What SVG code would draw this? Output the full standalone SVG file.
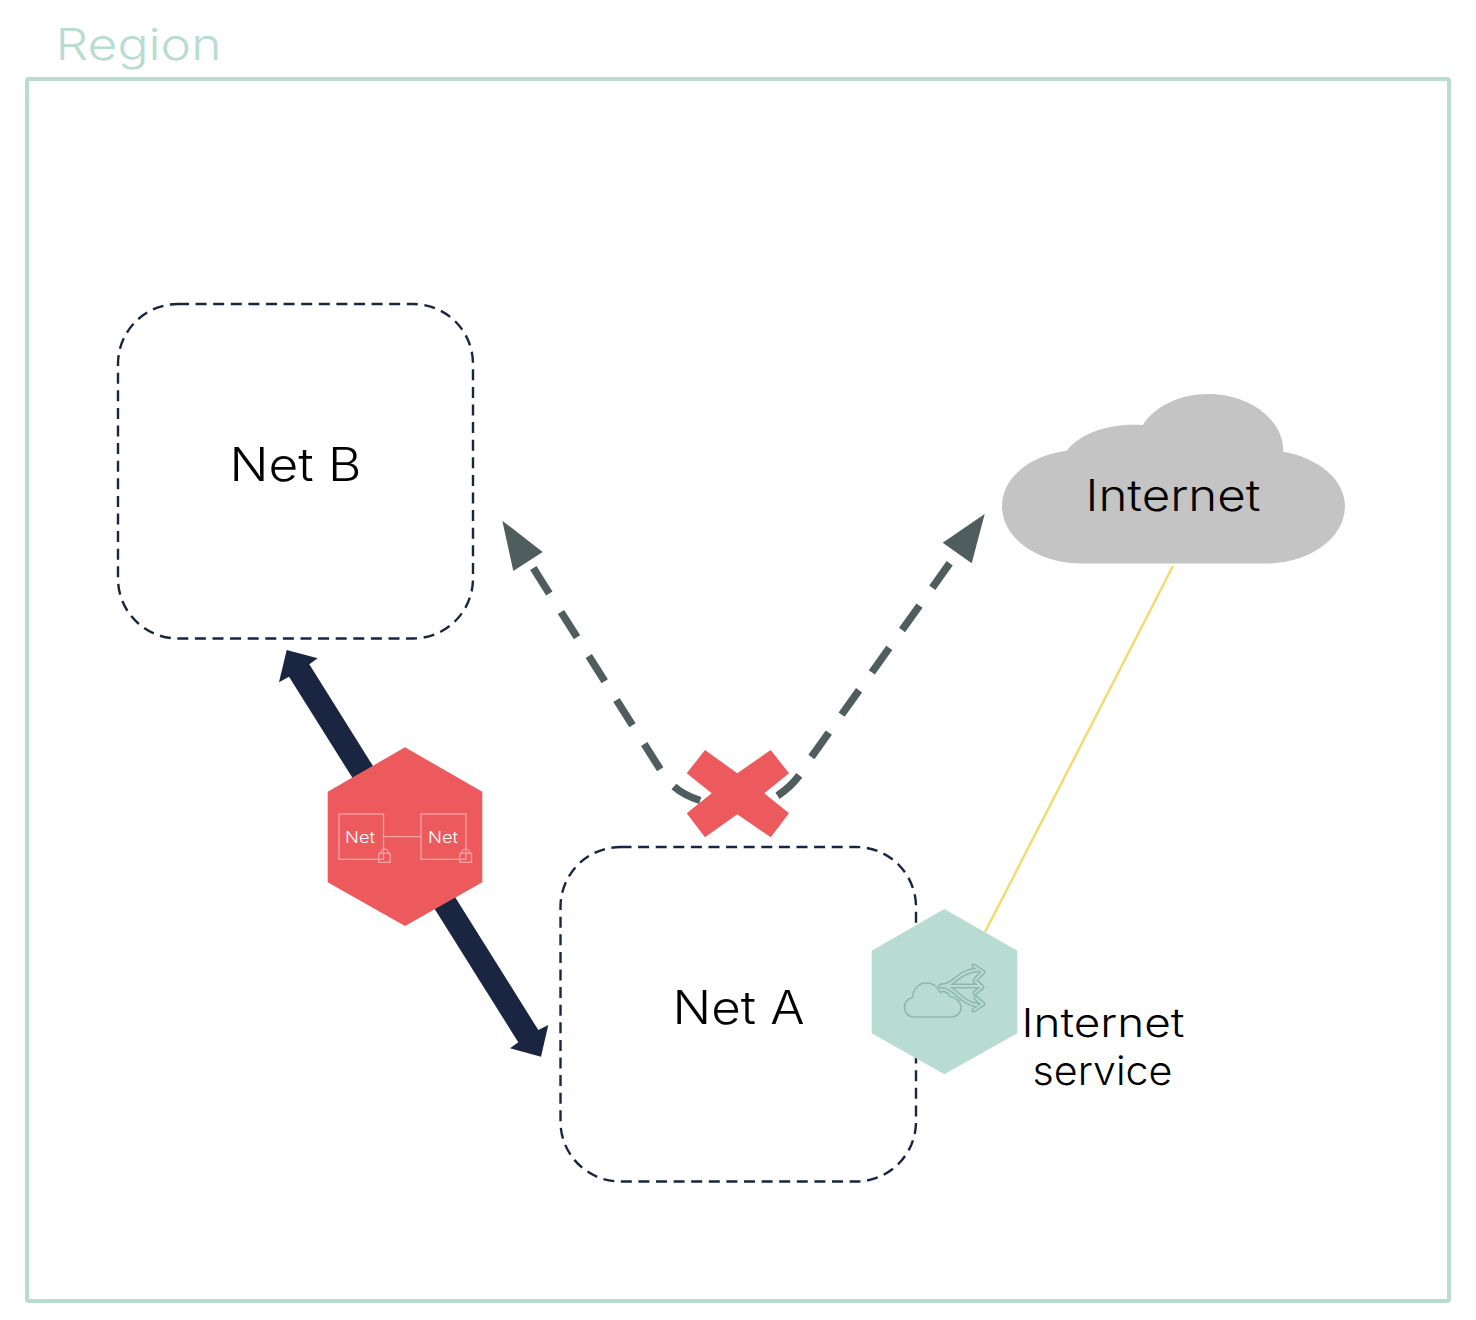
<svg xmlns="http://www.w3.org/2000/svg" width="1476" height="1320" viewBox="0 0 1476 1320">
<style>
text{font-family:"Inter","Liberation Sans",sans-serif;font-weight:300;fill:#000}
.net{fill:#fff;stroke:#1a2541;stroke-width:2.4;stroke-dasharray:11 6.6}
.grey{fill:none;stroke:#4f5d5e;stroke-width:7.500;stroke-dasharray:30 22}
.tiny{fill:#fff;font-size:16px}
.pale{fill:none;stroke:#f7a3a6;stroke-width:1.3}
.ib{fill:none;stroke:#8fb8ad;stroke-width:5;stroke-linejoin:round;stroke-linecap:round}
.ic{fill:none;stroke:#b8dcd1;stroke-width:2;stroke-linejoin:round;stroke-linecap:round}
</style>
<rect x="0" y="0" width="1476" height="1320" fill="#fff"/>
<g id="region">
<rect x="27" y="79" width="1422" height="1222" rx="2" fill="none" stroke="#b8dcd1" stroke-width="4"/>
<text x="55.500" y="60" font-size="44" textLength="166" lengthAdjust="spacingAndGlyphs" style="fill:#b8dcd1">Region</text>
</g>
<g id="net-b">
<rect class="net" x="118" y="304" width="355" height="334.500" rx="60"/>
<text x="229.500" y="481" font-size="46" textLength="132" lengthAdjust="spacingAndGlyphs">Net B</text>
</g>
<g id="net-a">
<rect class="net" x="560.500" y="847" width="355.500" height="334.500" rx="60"/>
<text x="672.500" y="1024" font-size="46" textLength="132" lengthAdjust="spacingAndGlyphs">Net A</text>
</g>
<g id="connectors">
<polygon fill="#1a2541" points="286.700,650 317.700,658.300 309.300,664.300 538.300,1030 548.300,1025 541,1056.700 510,1048.300 518.300,1042.300 289,676.700 279,682.300"/>
<path class="grey" d="M533.300 568 L661.700 771.700 L664 775 C672 788 686 796 700.700 800.700"/>
<polygon fill="#4f5d5e" points="502.300,520.700 542.700,552 513.300,571"/>
<path class="grey" d="M949.700 563.300 L810 759 L808 762 C800 777 788 790 773.300 798.300"/>
<polygon fill="#4f5d5e" points="984.700,514 942.700,542.700 971.700,563.300"/>
<line x1="1173" y1="566" x2="985" y2="932" stroke="#f5d96b" stroke-width="2.400"/>
</g>
<g id="internet">
<path fill="#c4c4c4" d="M1082 563.500 C1037 563.500 1002 538 1002 506 C1002 478 1030 455 1066.700 450.700 C1080 434 1107 423 1142.700 425 C1155 406 1180 394 1208 394 C1250 394 1284 420 1283.300 451.700 C1319 458 1345 480 1345 506 C1345 538 1310 563.500 1265 563.500 Z"/>
<text x="1085.500" y="511" font-size="43" textLength="175" lengthAdjust="spacingAndGlyphs">Internet</text>
</g>
<g id="peering">
<polygon fill="#ec5a5e" points="405,747.300 482.300,791.700 482.300,882.300 405,926 327.700,882.300 327.700,791.700"/>
<rect class="pale" x="339" y="814" width="44.500" height="45.300"/>
<rect class="pale" x="421" y="814" width="45" height="45.300"/>
<line class="pale" x1="383.500" y1="836.700" x2="421" y2="836.700"/>
<rect class="pale" x="378.700" y="853.300" width="11.500" height="9"/>
<path class="pale" d="M380.500 853.300 A4 4.500 0 0 1 388.500 853.300"/>
<rect class="pale" x="460" y="853.300" width="11.500" height="9"/>
<path class="pale" d="M461.800 853.300 A4 4.500 0 0 1 469.800 853.300"/>
<text class="tiny" x="345" y="842.700" textLength="30" lengthAdjust="spacingAndGlyphs" style="fill:#fff">Net</text>
<text class="tiny" x="428" y="842.700" textLength="30" lengthAdjust="spacingAndGlyphs" style="fill:#fff">Net</text>
</g>
<g id="blocked">
<polygon fill="#ec5a5e" points="705,750 737.300,773.300 770.700,750 789,773.300 764.300,793.300 789,813.300 770.700,837.300 737.300,814.300 705,837.300 686.700,813.300 711.700,793.300 686.700,773.300"/>
</g>
<g id="internet-service">
<polygon fill="#b8dcd1" points="944.300,909 1017.300,950.700 1017.300,1033.300 944.300,1074.300 871.700,1033.300 871.700,950.700"/>
<path fill="none" stroke="#8fb8ad" stroke-width="1.500" d="M914 1017 C907 1017 904.500 1011 904.500 1007.500 C904.500 1002 908 998.500 912.500 997.500 C913 989 919 983 926 983 C933 983 938 987 940 992.500 C943.500 990.500 948 992 950 996.500 C956 997 961 1002 961 1007.500 C961 1013 957 1017 951 1017 Z"/>
<g>
<path class="ib" d="M941 986 L981 986 M975 981 L982 987 L975 993"/>
<path class="ib" d="M941 986 C955 986 958 971 977 970 M974 966 L983 972 L976 979"/>
<path class="ib" d="M941 986 C955 986 960 1003 977 1005 M976 998 L983 1004 L974 1010"/>
<path class="ic" d="M941 986 L981 986 M975 981 L982 987 L975 993"/>
<path class="ic" d="M941 986 C955 986 958 971 977 970 M974 966 L983 972 L976 979"/>
<path class="ic" d="M941 986 C955 986 960 1003 977 1005 M976 998 L983 1004 L974 1010"/>
</g>
<text x="1021.500" y="1037" font-size="40" textLength="163" lengthAdjust="spacingAndGlyphs">Internet</text>
<text x="1032.500" y="1085" font-size="40" textLength="140" lengthAdjust="spacingAndGlyphs">service</text>
</g>
</svg>
